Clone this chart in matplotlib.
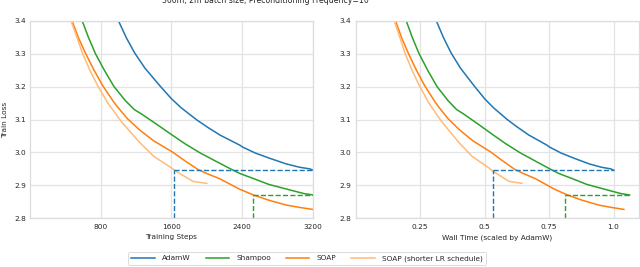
import numpy as np
import matplotlib
matplotlib.use("Agg")
import matplotlib.pyplot as plt

# Values (training step, train loss)
names = ["AdamW", "Shampoo", "SOAP", "SOAP (shorter LR schedule)"]
colors = ["#1f77b4", "#2ca02c", "#ff7f0e", "#ffbb78"]

adamw_steps = [1000, 1090, 1184, 1300, 1467, 1600, 1713, 1880, 2000, 2147, 2374, 2400, 2550, 2714, 2900, 3050, 3167, 3200]
adamw_loss = [3.400, 3.348, 3.302, 3.256, 3.203, 3.163, 3.135, 3.100, 3.078, 3.053, 3.022, 3.017, 2.998, 2.982, 2.965, 2.955, 2.950, 2.946]

shampoo_steps = [590, 660, 740, 840, 950, 1080, 1180, 1260, 1430, 1607, 1750, 1921, 2147, 2298, 2374, 2525, 2700, 2941, 3100, 3200]
shampoo_loss = [3.400, 3.350, 3.300, 3.250, 3.200, 3.157, 3.130, 3.117, 3.086, 3.053, 3.027, 2.999, 2.967, 2.946, 2.936, 2.921, 2.903, 2.886, 2.875, 2.871]

soap_steps = [475, 550, 630, 720, 822, 950, 1000, 1100, 1241, 1400, 1607, 1750, 1901, 2000, 2147, 2374, 2525, 2700, 2903, 3050, 3200]
soap_loss = [3.400, 3.347, 3.300, 3.252, 3.203, 3.152, 3.135, 3.103, 3.068, 3.035, 3.002, 2.975, 2.948, 2.936, 2.920, 2.888, 2.871, 2.855, 2.840, 2.833, 2.827]

short_steps = [463, 530, 595, 680, 765, 880, 1029, 1241, 1400, 1607, 1634, 1700, 1845, 2000]
short_loss = [3.400, 3.350, 3.300, 3.248, 3.203, 3.150, 3.095, 3.030, 2.988, 2.952, 2.946, 2.935, 2.912, 2.906]

# wall time (scaled by AdamW) at the last step of each run
end_step = [3200, 3200, 3200, 2000]
end_time = [1.0, 1.062, 1.040, 0.645]

# dashed markers: loss targets and where they are reached
adamw_target = 2.946
shampoo_target = 2.871
match_steps = [1634, 2525]
match_times = [0.531, 0.813]

steps_list = [adamw_steps, shampoo_steps, soap_steps, short_steps]
loss_list = [adamw_loss, shampoo_loss, soap_loss, short_loss]

plt.rcParams["font.family"] = "DejaVu Sans"
plt.rcParams["font.size"] = 5.3
txt = "#262626"

fig = plt.figure(figsize=(6.4, 2.67), dpi=100)
ax1 = fig.add_axes([0.0469, 0.1824, 0.442, 0.740])
ax2 = fig.add_axes([0.5558, 0.1824, 0.442, 0.740])

lines = []
for i in range(4):
    s = np.array(steps_list[i], dtype=float)
    t = s / end_step[i] * end_time[i]
    l, = ax1.plot(s, loss_list[i], color=colors[i], lw=1.1, label=names[i])
    ax2.plot(t, loss_list[i], color=colors[i], lw=1.1)
    lines.append(l)

# left panel dashed lines
ax1.plot([match_steps[0], adamw_steps[-1]], [adamw_target, adamw_target], ls="--", color=colors[0], lw=1.0)
ax1.plot([match_steps[0], match_steps[0]], [2.8, adamw_target], ls="--", color=colors[0], lw=1.0)
ax1.plot([match_steps[1], shampoo_steps[-1]], [shampoo_target, shampoo_target], ls="--", color=colors[1], lw=1.0)
ax1.plot([match_steps[1], match_steps[1]], [2.8, shampoo_target], ls="--", color=colors[1], lw=1.0)

# right panel dashed lines
ax2.plot([match_times[0], end_time[0]], [adamw_target, adamw_target], ls="--", color=colors[0], lw=1.0)
ax2.plot([match_times[0], match_times[0]], [2.8, adamw_target], ls="--", color=colors[0], lw=1.0)
ax2.plot([match_times[1], end_time[1]], [shampoo_target, shampoo_target], ls="--", color=colors[1], lw=1.0)
ax2.plot([match_times[1], match_times[1]], [2.8, shampoo_target], ls="--", color=colors[1], lw=1.0)

ax1.set_xlim(0, 3200)
ax1.set_xticks([800, 1600, 2400, 3200])
ax2.set_xlim(0, 1.097)
ax2.set_xticks([0.25, 0.5, 0.75, 1.0])
ax2.set_xticklabels(["0.25", "0.5", "0.75", "1.0"])

for ax in [ax1, ax2]:
    ax.set_ylim(2.8, 3.4)
    ax.set_yticks([2.8, 2.9, 3.0, 3.1, 3.2, 3.3, 3.4])
    ax.grid(True, color="#e3e3e3", lw=0.9)
    ax.set_axisbelow(True)
    ax.tick_params(axis="x", length=0, pad=4, colors=txt, labelsize=5.3)
    ax.tick_params(axis="y", length=0, pad=3, colors=txt, labelsize=5.3)
    for sp in ax.spines.values():
        sp.set_color("#dcdcdc")
        sp.set_linewidth(0.9)

ax1.set_xlabel("Training Steps", color=txt, labelpad=3)
ax2.set_xlabel("Wall Time (scaled by AdamW)", color=txt, labelpad=3)
ax1.set_ylabel("Train Loss", color=txt, labelpad=4)

# title sits partly above the top edge, as in the reference
fig.text(265 / 640, 0.989, "360m, 2m batch size, Preconditioning Frequency=10",
         ha="center", va="baseline", color=txt, fontsize=5.6)

leg = fig.legend(lines, names, loc="center", bbox_to_anchor=(0.48, 0.032), ncol=4,
                 frameon=True, handlelength=3.2, columnspacing=2.0, handletextpad=1.0,
                 borderpad=0.4, fontsize=5.3)
leg.get_frame().set_edgecolor("#cccccc")
leg.get_frame().set_linewidth(0.6)
for t in leg.get_texts():
    t.set_color(txt)

fig.savefig("out.png", dpi=100)
